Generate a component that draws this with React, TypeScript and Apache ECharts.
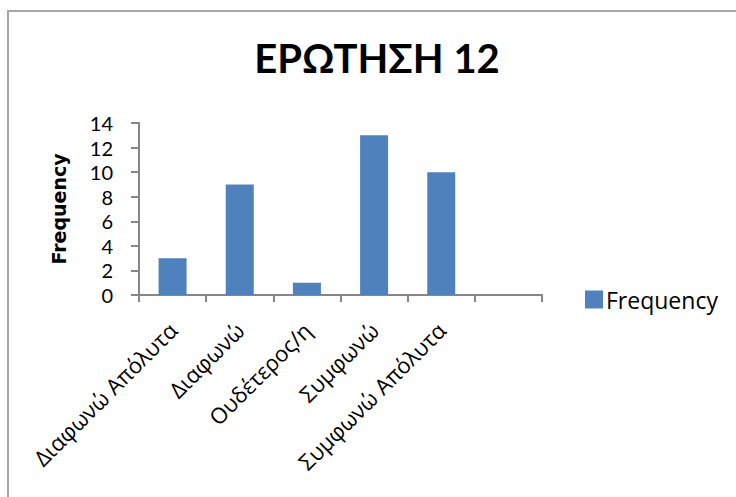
import React, { useEffect, useRef } from "react";
import * as echarts from "echarts";

const titleText = "ΕΡΩΤΗΣΗ 12";
const categories = ["Διαφωνώ Απόλυτα", "Διαφωνώ", "Ουδέτερος/η", "Συμφωνώ", "Συμφωνώ Απόλυτα", ""];
const frequency = [3, 9, 1, 13, 10, null];
const seriesName = "Frequency";
const yAxisName = "Frequency";

export default function App() {
  const ref = useRef<HTMLDivElement>(null);
  useEffect(() => {
    if (!ref.current) return;
    const chart = echarts.init(ref.current, null, { renderer: "svg" });
    const font = "'Open Sans', Lato, sans-serif";
    chart.setOption({
      animation: false,
      backgroundColor: "#ffffff",
      textStyle: { fontFamily: font },
      title: {
        text: titleText,
        left: 377,
        top: 38,
        padding: 0,
        textAlign: "center",
        textStyle: { fontFamily: "Lato, sans-serif", fontSize: 40, fontWeight: "bold", color: "#000" },
      },
      graphic: [
        {
          type: "rect",
          shape: { x: 8, y: 11, width: 760, height: 520 },
          style: { fill: "none", stroke: "#a6a6a6", lineWidth: 2 },
          silent: true,
        },
      ],
      legend: {
        data: [seriesName],
        left: 585,
        top: 288,
        padding: 0,
        itemWidth: 18,
        itemHeight: 18,
        icon: "rect",
        textStyle: { fontFamily: font, fontSize: 23, lineHeight: 18, color: "#000", padding: [0, 0, 0, -2] },
      },
      grid: { left: 139, top: 123, right: 194, bottom: 202, containLabel: false },
      xAxis: {
        type: "category",
        data: categories,
        boundaryGap: true,
        axisLine: { lineStyle: { color: "#868686", width: 2 } },
        axisTick: { show: true, length: 7, interval: 0, lineStyle: { color: "#868686", width: 2 } },
        axisLabel: {
          interval: 0,
          rotate: 45,
          margin: 31,
          fontSize: 22,
          color: "#000",
          fontFamily: font,
        },
      },
      yAxis: {
        type: "value",
        min: 0,
        max: 14,
        interval: 2,
        name: yAxisName,
        nameLocation: "middle",
        nameGap: 71,
        nameTextStyle: { fontFamily: "'DejaVu Sans', sans-serif", fontSize: 19, fontWeight: "bold", color: "#000" },
        splitLine: { show: false },
        axisLine: { show: true, lineStyle: { color: "#868686", width: 2 } },
        axisTick: { show: true, length: 8, lineStyle: { color: "#868686", width: 2 } },
        axisLabel: { fontSize: 20, color: "#000", margin: 26, fontFamily: "Lato, sans-serif" },
      },
      series: [
        {
          name: seriesName,
          type: "bar",
          data: frequency,
          barWidth: 28,
          itemStyle: { color: "#4f81bd" },
        },
      ],
    });
    return () => chart.dispose();
  }, []);
  return (
    <div
      ref={ref}
      style={{ position: "fixed", left: 0, top: 0, width: 736, height: 497 }}
    />
  );
}
